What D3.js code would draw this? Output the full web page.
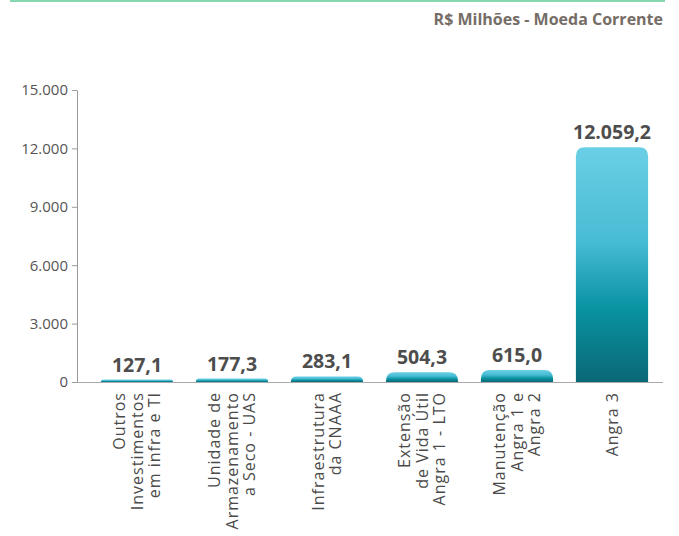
<!DOCTYPE html>
<html><head><meta charset="utf-8">
<script src="https://cdn.jsdelivr.net/npm/d3@7/dist/d3.min.js"></script>
<style>
body{margin:0;background:#fff;}
svg{display:block;}
</style></head>
<body>
<svg id="c" width="679" height="536"></svg>
<script>
const categories = [
  ["Outros","Investimentos","em infra e TI"],
  ["Unidade de","Armazenamento","a Seco - UAS"],
  ["Infraestrutura","da CNAAA"],
  ["Extensão","de Vida Útil","Angra 1 - LTO"],
  ["Manutenção","Angra 1 e","Angra 2"],
  ["Angra 3"]
];
const values = [127.1, 177.3, 283.1, 504.3, 615.0, 12059.2];
const valueLabels = ["127,1","177,3","283,1","504,3","615,0","12.059,2"];
const yTicks = [0, 3000, 6000, 9000, 12000, 15000];
const yTickLabels = ["0","3.000","6.000","9.000","12.000","15.000"];
const unitTitle = "R$ Milhões - Moeda Corrente";

const svg = d3.select("#c");
const axisX = 77, x0 = 89.5, x1 = 659.5, axisEnd = 663;
const yTop = 90, yBot = 382;

// top rule + title
svg.append("line").attr("x1",10).attr("x2",665).attr("y1",1).attr("y2",1)
  .attr("stroke","#86d8b0").attr("stroke-width",2);
svg.append("text").attr("x",663).attr("y",25).attr("text-anchor","end")
  .attr("font-family","'Open Sans', sans-serif").attr("font-weight",700)
  .attr("font-size",16).attr("fill","#756d66").text(unitTitle);

const x = d3.scaleBand().domain(d3.range(values.length)).range([x0,x1]).paddingInner(0.24).paddingOuter(0.12);
const y = d3.scaleLinear().domain([0,15000]).range([yBot,yTop]);

const defs = svg.append("defs");
const g = defs.append("linearGradient").attr("id","bg").attr("x1",0).attr("y1",0).attr("x2",0).attr("y2",1);
g.append("stop").attr("offset","0%").attr("stop-color","#6acfe6");
g.append("stop").attr("offset","40%").attr("stop-color","#48bcd3");
g.append("stop").attr("offset","68%").attr("stop-color","#0a93a3");
g.append("stop").attr("offset","100%").attr("stop-color","#0a6875");

// y axis
const yAxis = d3.axisLeft(y).tickValues(yTicks).tickSize(5).tickSizeOuter(0)
  .tickFormat((d,i)=>yTickLabels[i]);
const ya = svg.append("g").attr("transform",`translate(${axisX},0)`).call(yAxis);
ya.select(".domain").attr("stroke","#9a9a9a");
ya.selectAll(".tick line").attr("stroke","#9a9a9a");
ya.selectAll(".tick text").attr("font-family","'Open Sans', sans-serif").attr("font-size",15)
  .attr("fill","#555").attr("x",-9);

// bars
function barPath(d,i){
  const bx = x(i), bw = x.bandwidth(), top = y(d), bot = y(0);
  const h = bot - top;
  const r = Math.min(9, h, bw/2);
  return `M${bx},${bot} L${bx},${top+r} Q${bx},${top} ${bx+r},${top} L${bx+bw-r},${top} Q${bx+bw},${top} ${bx+bw},${top+r} L${bx+bw},${bot} Z`;
}
svg.append("g").selectAll("path").data(values).join("path")
  .attr("d",barPath).attr("fill","url(#bg)");

// x axis line
svg.append("line").attr("x1",axisX).attr("x2",axisEnd).attr("y1",yBot+0.5).attr("y2",yBot+0.5)
  .attr("stroke","#aaa").attr("stroke-width",1.2);

// value labels
svg.append("g").selectAll("text").data(values).join("text")
  .attr("x",(d,i)=>x(i)+x.bandwidth()/2).attr("y",d=>y(d)-8)
  .attr("text-anchor","middle").attr("font-family","'Open Sans', sans-serif")
  .attr("font-weight",700).attr("font-size",19.5).attr("fill","#4d4d4d")
  .text((d,i)=>valueLabels[i]);

// category labels (rotated)
const lh = 17.5;
const cg = svg.append("g").selectAll("text").data(categories).join("text")
  .attr("transform",(d,i)=>`translate(${x(i)+x.bandwidth()/2},392) rotate(-90)`)
  .attr("text-anchor","end").attr("font-family","'Open Sans', sans-serif")
  .attr("font-size",16).attr("letter-spacing",1).attr("fill","#4a4a4a");
cg.each(function(lines){
  const t = d3.select(this);
  lines.forEach((s,k)=>{
    t.append("tspan").attr("x",0).attr("y",(k-(lines.length-1)/2)*lh+5.5).text(s);
  });
});
</script>
</body></html>
